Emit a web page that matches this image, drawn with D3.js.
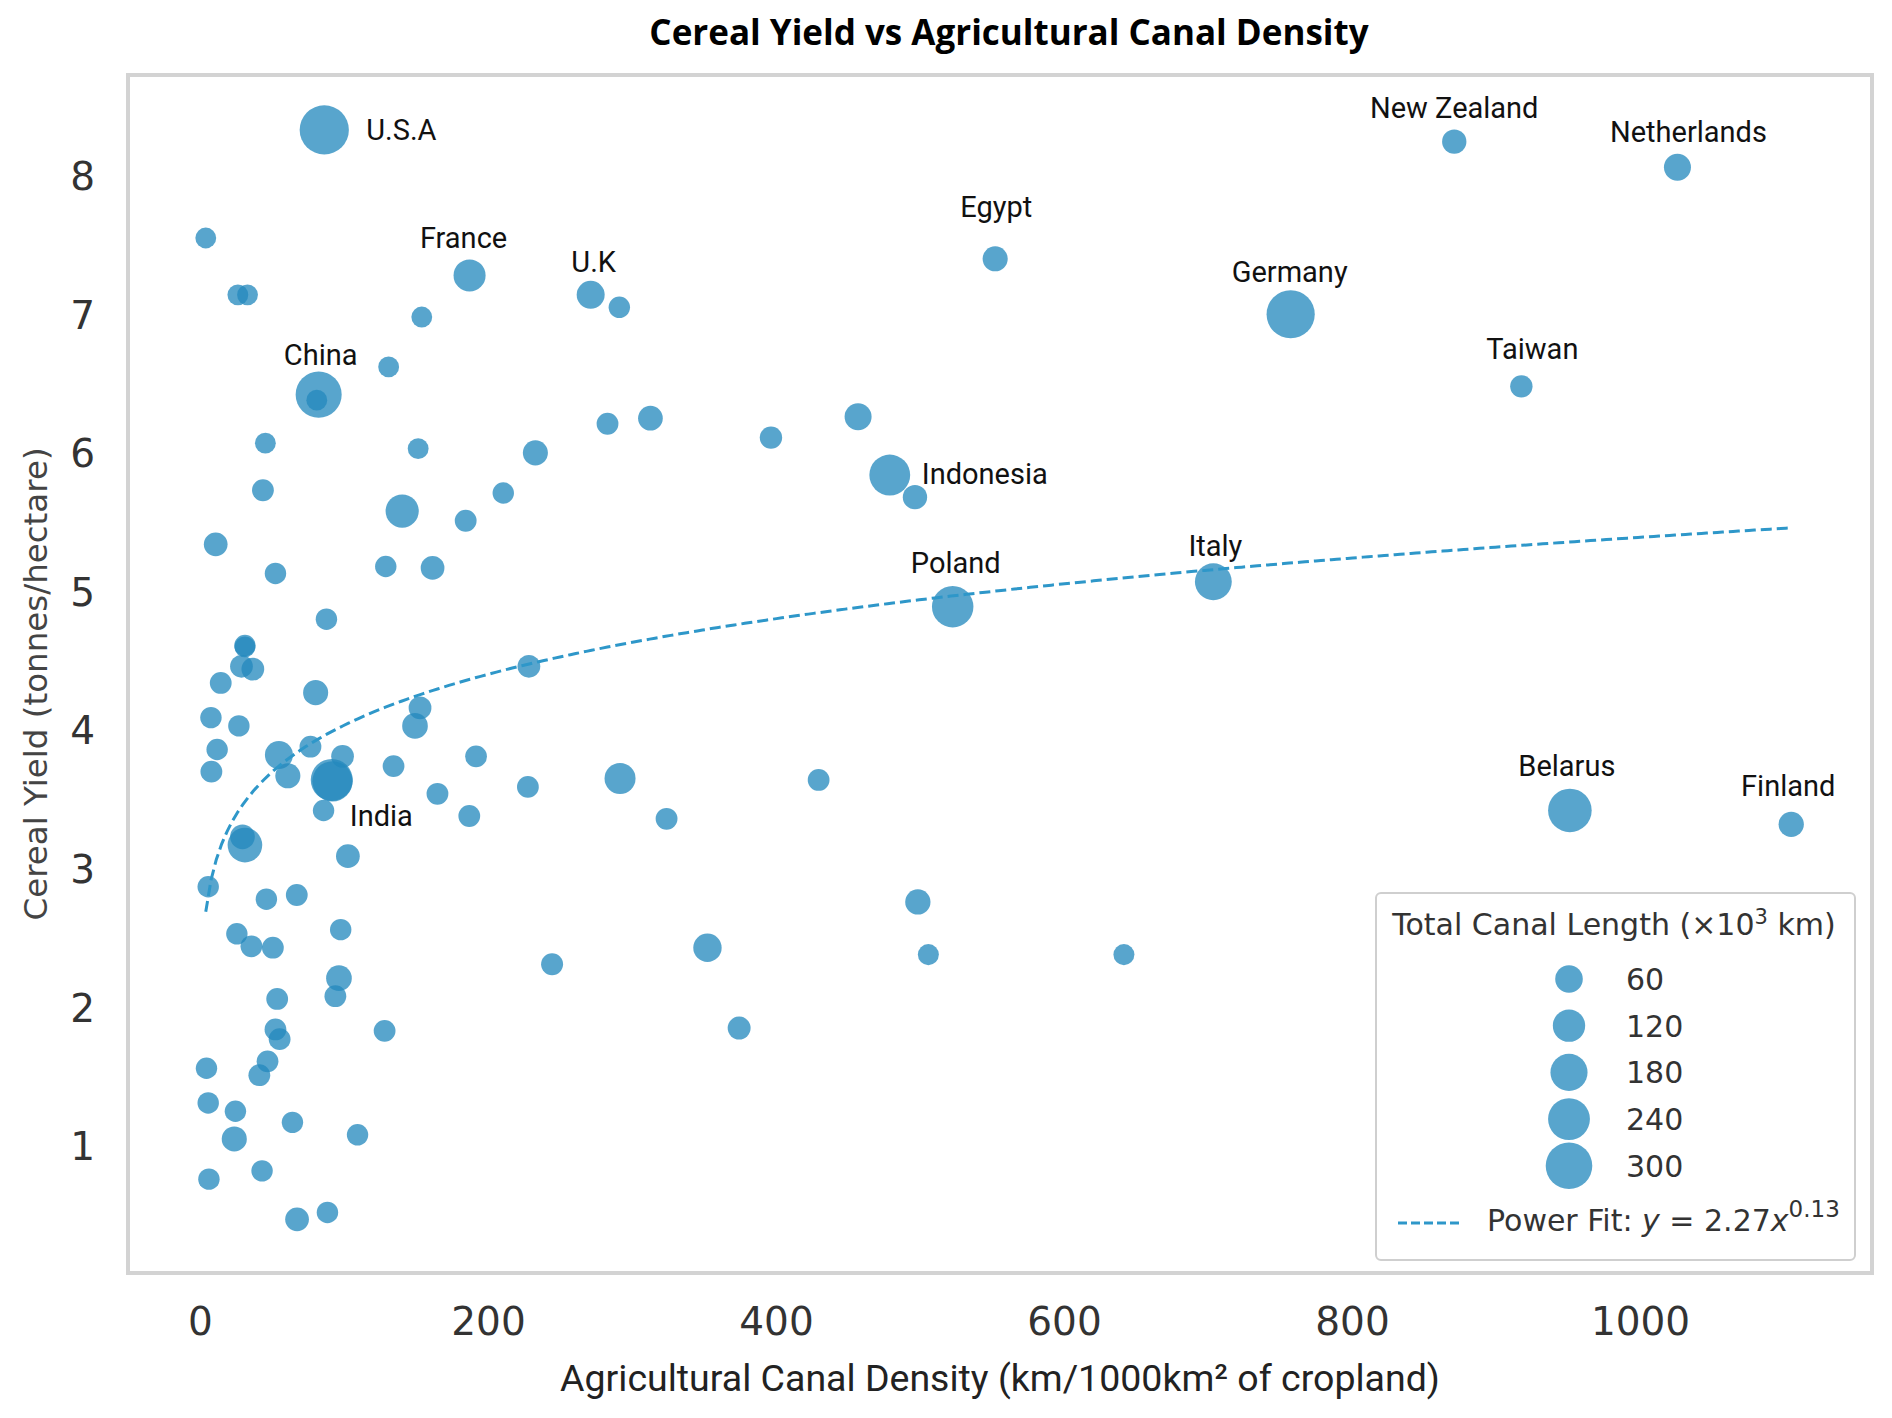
<!DOCTYPE html>
<html>
<head>
<meta charset="utf-8">
<script src="https://cdn.jsdelivr.net/npm/d3@7"></script>
<style>
  body { margin: 0; background: #fff; }
  svg { display: block; }
</style>
</head>
<body>
<svg id="chart" width="1892" height="1418"></svg>
<script>
// values: canal density (km/1000km2), cereal yield (t/ha), canal length (x10^3 km)
const country = [
  'U.S.A', '', '', '', 'France', 'U.K', '', '', '', 'China',
  '', '', '', '', '', '', '', '', 'Indonesia', '',
  '', '', '', '', '', '', '', '', '', 'Poland',
  'Italy', '', '', '', '', '', '', '', '', '',
  '', '', '', '', '', '', '', '', 'India', '',
  '', '', '', '', '', '', '', '', '', '',
  '', '', '', '', '', '', '', '', '', '',
  '', '', '', '', '', '', '', '', '', '',
  '', '', '', '', '', '', '', '', '', '',
  '', '', '', 'New Zealand', 'Netherlands', 'Egypt', 'Germany', 'Taiwan', 'Belarus', 'Finland'
]
const density = [
  86.3, 4.0, 26.3, 33.0, 187.2, 271.3, 291.2, 154.0, 131.0, 82.4,
  81.1, 45.4, 151.5, 232.9, 283.0, 312.8, 396.5, 457.0, 479.0, 496.5,
  43.7, 210.6, 140.4, 184.5, 10.9, 52.4, 129.0, 161.5, 87.8, 522.7,
  703.7, 31.2, 31.2, 28.8, 36.7, 14.4, 80.3, 228.4, 7.6, 27.0,
  152.8, 149.3, 11.9, 7.9, 54.8, 76.7, 99.0, 61.0, 91.5, 92.0,
  85.8, 134.4, 191.7, 164.9, 227.7, 187.0, 291.7, 324.0, 429.6, 31.2,
  29.5, 102.7, 5.7, 46.1, 67.2, 498.5, 25.6, 35.7, 50.6, 97.7,
  244.5, 352.4, 505.8, 641.6, 96.5, 94.0, 53.6, 52.4, 55.3, 128.2,
  374.4, 4.5, 46.9, 41.2, 5.7, 24.6, 23.8, 64.2, 109.4, 6.2,
  43.1, 67.4, 88.5, 871.0, 1026.0, 552.2, 757.4, 917.6, 951.3, 1105.0
]
const cerealYield = [
  8.34, 7.56, 7.15, 7.15, 7.29, 7.15, 7.06, 6.99, 6.63, 6.43,
  6.39, 6.08, 6.04, 6.01, 6.22, 6.26, 6.12, 6.27, 5.85, 5.69,
  5.74, 5.72, 5.59, 5.52, 5.35, 5.14, 5.19, 5.18, 4.81, 4.90,
  5.08, 4.62, 4.61, 4.47, 4.45, 4.35, 4.28, 4.47, 4.10, 4.04,
  4.17, 4.04, 3.87, 3.71, 3.83, 3.89, 3.82, 3.68, 3.65, 3.64,
  3.43, 3.75, 3.82, 3.55, 3.60, 3.39, 3.66, 3.37, 3.65, 3.18,
  3.24, 3.10, 2.88, 2.79, 2.82, 2.77, 2.54, 2.45, 2.44, 2.57,
  2.32, 2.44, 2.39, 2.39, 2.22, 2.09, 2.07, 1.85, 1.78, 1.84,
  1.86, 1.57, 1.62, 1.52, 1.32, 1.26, 1.06, 1.18, 1.09, 0.77,
  0.83, 0.48, 0.53, 8.255, 8.07, 7.41, 7.01, 6.49, 3.43, 3.33
]
const canalLength = [
  333, 25, 25, 25, 116, 65, 28, 25, 25, 293,
  25, 25, 25, 47, 30, 45, 33, 57, 227, 43,
  30, 28, 131, 30, 40, 28, 28, 40, 28, 235,
  177, 28, 25, 35, 35, 30, 47, 35, 28, 28,
  35, 50, 28, 30, 65, 30, 35, 47, 242, 220,
  28, 30, 30, 30, 30, 30, 103, 30, 30, 149,
  45, 40, 28, 28, 30, 48, 28, 30, 30, 28,
  31, 70, 26, 26, 50, 30, 30, 30, 30, 30,
  36, 28, 30, 30, 28, 28, 47, 28, 28, 28,
  28, 40, 28, 43, 57, 47, 320, 33, 262, 48
]

const xTicks = [0, 200, 400, 600, 800, 1000]
const yTicks = [1, 2, 3, 4, 5, 6, 7, 8]
const legendSizes = [60, 120, 180, 240, 300]

// power fit y = a * x^b (shown rounded in the legend)
const fitA = 2.268
const fitB = 0.1256

// where each country label sits relative to its bubble
const labelPlacement = {
  'U.S.A': { dx: 42, dy: 10, anchor: 'start' },
  'China': { dx: 2, dy: -30, anchor: 'middle' },
  'France': { dx: -6, dy: -27, anchor: 'middle' },
  'U.K': { dx: 3, dy: -23, anchor: 'middle' },
  'Egypt': { dx: 1, dy: -42, anchor: 'middle' },
  'Germany': { dx: -1, dy: -32, anchor: 'middle' },
  'New Zealand': { dx: 0, dy: -24, anchor: 'middle' },
  'Netherlands': { dx: 11, dy: -25, anchor: 'middle' },
  'Taiwan': { dx: 11, dy: -27, anchor: 'middle' },
  'Poland': { dx: 3, dy: -34, anchor: 'middle' },
  'Italy': { dx: 2, dy: -26, anchor: 'middle' },
  'Belarus': { dx: -3, dy: -34, anchor: 'middle' },
  'Finland': { dx: -3, dy: -28, anchor: 'middle' },
  'Indonesia': { dx: 32, dy: 9, anchor: 'start' },
  'India': { dx: 18, dy: 46, anchor: 'start' }
}

const frame = { left: 128, top: 75, right: 1872, bottom: 1273 }
const bubbleColor = '#2389bd'
const bubbleOpacity = 0.76

const svg = d3.select('#chart')

const x = d3.scaleLinear().domain([-50, 1161.1]).range([frame.left, frame.right])
const y = d3.scaleLinear().domain([0.093, 8.736]).range([frame.bottom, frame.top])
const r = d3.scaleLinear().domain([0, 60, 300]).range([8, 13.8, 23.3])

const points = density.map((d, i) => ({
  name: country[i], x: d, y: cerealYield[i], size: canalLength[i]
}))

// plot frame
svg.append('rect')
  .attr('x', frame.left)
  .attr('y', frame.top)
  .attr('width', frame.right - frame.left)
  .attr('height', frame.bottom - frame.top)
  .attr('fill', 'none')
  .attr('stroke', '#d3d3d3')
  .attr('stroke-width', 4)

// axes (labels only, no tick marks)
const xAxis = svg.append('g')
  .attr('transform', `translate(0,${frame.bottom})`)
  .call(d3.axisBottom(x).tickValues(xTicks).tickSize(0).tickPadding(34).tickFormat(d3.format('d')))
const yAxis = svg.append('g')
  .attr('transform', `translate(${frame.left},0)`)
  .call(d3.axisLeft(y).tickValues(yTicks).tickSize(0).tickPadding(33).tickFormat(d3.format('d')))

;[xAxis, yAxis].forEach(a => {
  a.select('.domain').remove()
  a.selectAll('text')
    .attr('font-family', 'DejaVu Sans')
    .attr('font-size', '39px')
    .attr('fill', '#333')
})

// bubbles
svg.append('g')
  .selectAll('circle')
  .data(points)
  .join('circle')
  .attr('cx', d => x(d.x))
  .attr('cy', d => y(d.y))
  .attr('r', d => r(d.size))
  .attr('fill', bubbleColor)
  .attr('fill-opacity', bubbleOpacity)

// power fit curve across the data range
const xMin = d3.min(density)
const xMax = d3.max(density)
const fitPoints = d3.range(0, 301).map(i => {
  const xv = xMin + (xMax - xMin) * i / 300
  return [xv, fitA * Math.pow(xv, fitB)]
})
svg.append('path')
  .datum(fitPoints)
  .attr('fill', 'none')
  .attr('stroke', '#2e97c9')
  .attr('stroke-width', 3)
  .attr('stroke-dasharray', '11,5')
  .attr('d', d3.line().x(d => x(d[0])).y(d => y(d[1])))

// country labels
svg.append('g')
  .selectAll('text')
  .data(points.filter(d => d.name))
  .join('text')
  .attr('x', d => x(d.x) + labelPlacement[d.name].dx)
  .attr('y', d => y(d.y) + labelPlacement[d.name].dy)
  .attr('text-anchor', d => labelPlacement[d.name].anchor)
  .attr('font-family', 'Roboto')
  .attr('font-size', '29px')
  .attr('fill', '#111')
  .text(d => d.name)

// title and axis titles
svg.append('text')
  .attr('x', 1009)
  .attr('y', 45)
  .attr('text-anchor', 'middle')
  .attr('font-family', 'Open Sans')
  .attr('font-weight', 'bold')
  .attr('font-size', '35px')
  .attr('fill', '#000')
  .text('Cereal Yield vs Agricultural Canal Density')

svg.append('text')
  .attr('x', 1000)
  .attr('y', 1391)
  .attr('text-anchor', 'middle')
  .attr('font-family', 'Roboto')
  .attr('font-size', '37.5px')
  .attr('fill', '#222')
  .text('Agricultural Canal Density (km/1000km² of cropland)')

svg.append('text')
  .attr('transform', 'translate(47,684) rotate(-90)')
  .attr('text-anchor', 'middle')
  .attr('font-family', 'DejaVu Sans')
  .attr('font-size', '32.5px')
  .attr('fill', '#444')
  .text('Cereal Yield (tonnes/hectare)')

// legend
const legend = svg.append('g').attr('transform', 'translate(1376,893)')
legend.append('rect')
  .attr('width', 479)
  .attr('height', 367)
  .attr('rx', 5)
  .attr('fill', '#fff')
  .attr('fill-opacity', 0.85)
  .attr('stroke', '#cfcfcf')
  .attr('stroke-width', 2)

const legendFont = 'DejaVu Sans'
const legendTitle = legend.append('text')
  .attr('x', 238)
  .attr('y', 42)
  .attr('text-anchor', 'middle')
  .attr('font-family', legendFont)
  .attr('font-size', '30px')
  .attr('fill', '#333')
legendTitle.append('tspan').text('Total Canal Length (×10')
legendTitle.append('tspan').attr('dy', -11).attr('font-size', '21px').text('3')
legendTitle.append('tspan').attr('dy', 11).text(' km)')

const sizeRow = legend.selectAll('.size-row')
  .data(legendSizes)
  .join('g')
  .attr('class', 'size-row')
  .attr('transform', (d, i) => `translate(0,${86 + i * 46.7})`)
sizeRow.append('circle')
  .attr('cx', 193)
  .attr('r', d => r(d))
  .attr('fill', bubbleColor)
  .attr('fill-opacity', bubbleOpacity)
sizeRow.append('text')
  .attr('x', 250)
  .attr('y', 11)
  .attr('font-family', legendFont)
  .attr('font-size', '30px')
  .attr('fill', '#333')
  .text(d => d)

legend.append('line')
  .attr('x1', 22).attr('x2', 84)
  .attr('y1', 330).attr('y2', 330)
  .attr('stroke', '#2e97c9')
  .attr('stroke-width', 3)
  .attr('stroke-dasharray', '9,4')

const fitLabel = legend.append('text')
  .attr('x', 111)
  .attr('y', 338)
  .attr('font-family', legendFont)
  .attr('font-size', '30px')
  .attr('fill', '#333')
fitLabel.append('tspan').text('Power Fit: ')
fitLabel.append('tspan').attr('font-style', 'italic').text('y')
fitLabel.append('tspan').text(` = ${fitA.toFixed(2)}`)
fitLabel.append('tspan').attr('font-style', 'italic').text('x')
fitLabel.append('tspan').attr('dy', -14).attr('font-size', '23px').text(fitB.toFixed(2))
</script>
</body>
</html>
